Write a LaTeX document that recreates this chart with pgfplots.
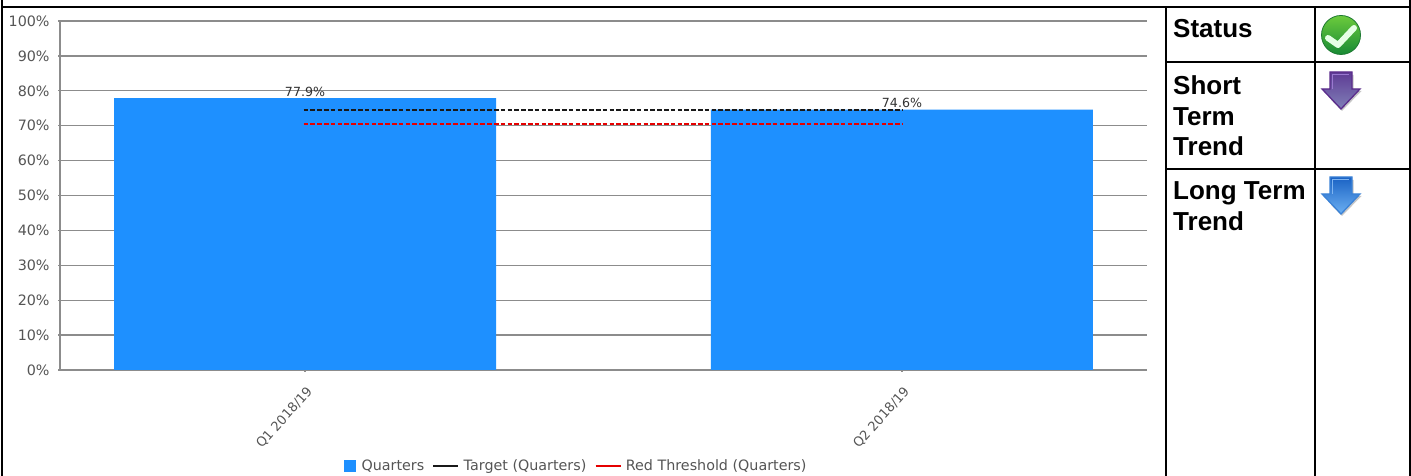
\documentclass[border=0pt]{standalone}
\usepackage{pgfplots}
\pgfplotsset{compat=1.18}
\usepackage{fontspec}
\setmainfont{DejaVu Sans}
\newfontfamily\tablefont{Liberation Sans}
\usetikzlibrary{calc}
\definecolor{barblue}{HTML}{1E90FF}
\definecolor{gridgrey}{HTML}{8C8C8C}
\definecolor{ticktext}{HTML}{555555}
\definecolor{purpletop}{HTML}{5E3B94}
\definecolor{purplebot}{HTML}{8080B8}
\definecolor{purpleline}{HTML}{5B2C8C}
\definecolor{purplehi}{HTML}{9A78D0}
\definecolor{bluetop}{HTML}{1A62C4}
\definecolor{bluebot}{HTML}{6CB0F2}
\definecolor{blueline}{HTML}{3B82D6}
\definecolor{bluehi}{HTML}{7FB4F0}
\definecolor{badgetop}{HTML}{6CCB3C}
\definecolor{badgebot}{HTML}{178A35}
\definecolor{badgeline}{HTML}{1E7A32}

% Trend arrow pointing down: top centre (#1,#2) in page units,
% colours: gradient top, gradient bottom, outline, highlight
\newcommand{\trendarrow}[6]{%
  \fill[black!22] (#1-9,#2-3) -- (#1+12.5,#2-3) -- (#1+12.5,#2-19) -- (#1+20.5,#2-19)
    -- (#1+1,#2-39) -- (#1-10,#2-28) -- cycle;
  \path[top color=#3, bottom color=#4, draw=#5, line width=1.3pt, line join=miter]
    (#1-11,#2) -- (#1+11,#2) -- (#1+11,#2-17) -- (#1+19,#2-17)
    -- (#1,#2-37) -- (#1-19,#2-17) -- (#1-11,#2-17) -- cycle;
  \draw[#6, line width=1.3pt] (#1-8.5,#2-17) -- (#1-8.5,#2-2.5) -- (#1+8,#2-2.5);
}
\begin{document}
\begin{tikzpicture}[x=1pt,y=1pt]
\useasboundingbox (0,0) rectangle (1411,476);
\fill[white] (0,0) rectangle (1411,476);

\begin{axis}[
  at={(60pt,106pt)}, anchor=south west,
  scale only axis, width=1087pt, height=349pt,
  xmin=-0.4104, xmax=1.4104, ymin=0, ymax=100,
  axis lines=left, axis line style={gridgrey, line width=1.3pt, -},
  ytick={0,10,...,100},
  yticklabel={\pgfmathprintnumber{\tick}\%},
  /pgf/number format/assume math mode=true,
  xtick={0,1}, xticklabels={Q1 2018/19,Q2 2018/19},
  ymajorgrids, grid style={gridgrey, line width=1.3pt},
  tick style={gridgrey, line width=1.3pt},
  major tick length=3.5pt,
  yticklabel style={font=\fontsize{14.3}{16}\selectfont, text=ticktext, inner sep=0pt, xshift=-8.5pt},
  xticklabel style={font=\fontsize{13}{15}\selectfont, text=ticktext, rotate=48, anchor=north east, inner sep=0pt, xshift=-9.5pt, yshift=-9.7pt},
  clip=false,
  legend style={at={(516pt,-96pt)}, anchor=center, draw=none, fill=none, legend columns=-1,
    font=\fontsize{14.3}{16}\selectfont, text=ticktext, inner sep=0pt,
    /tikz/every even column/.append style={column sep=8pt},
    /tikz/every odd column/.append style={column sep=4pt}},
  legend image code/.code={\draw[#1, line width=1.5pt, solid] (0pt,0pt) -- (22pt,0pt);},
]
\addplot[ybar, bar width=382pt, fill=barblue, draw=none, bar shift=0pt,
  nodes near coords={\pgfmathprintnumber[fixed,precision=1,fixed zerofill]{\pgfplotspointmeta}\%},
  nodes near coords style={font=\fontsize{12.6}{14}\selectfont, text=black!80, inner sep=1.5pt, anchor=south},
  legend image code/.code={\fill[barblue] (0pt,-6pt) rectangle (12pt,6pt);}]
  coordinates {(0,77.9) (1,74.6)};
\addlegendentry{Quarters}
\addplot[black!90, line width=2pt, dash pattern=on 4.6pt off 2.2pt, shorten >=-1.5pt, shorten <=-1.5pt] coordinates {(0,74.4) (1,74.4)};
\addlegendentry{Target (Quarters)}
\addplot[red!90!black, line width=2pt, dash pattern=on 4.6pt off 2.2pt, shorten >=-1.5pt, shorten <=-1.5pt] coordinates {(0,70.4) (1,70.4)};
\addlegendentry{Red Threshold (Quarters)}
\end{axis}

% Frame and side table
\draw[black, line width=2.8pt] (2,476) -- (2,0);
\draw[black, line width=2.8pt] (2,469) -- (1410,469);
\draw[black, line width=2.8pt] (1410,476) -- (1410,0);
\draw[black, line width=2.8pt] (1166,469) -- (1166,0);
\draw[black, line width=2.8pt] (1315,469) -- (1315,0);
\draw[black, line width=2.8pt] (1166,414) -- (1410,414);
\draw[black, line width=2.8pt] (1166,307) -- (1410,307);

\begin{scope}[every node/.style={anchor=base west, inner sep=0pt,
    font=\tablefont\bfseries\fontsize{26}{31}\selectfont}]
  \node at (1173,438) {Status};
  \node at (1173,381) {Short};
  \node at (1173,350) {Term};
  \node at (1173,320) {Trend};
  \node at (1173,276) {Long Term};
  \node at (1173,245) {Trend};
\end{scope}

% Status badge
\shade[top color=badgetop, bottom color=badgebot, draw=badgeline, line width=0.8pt] (1341,441) circle (19.5);
\draw[white!90!green, line width=6pt, line cap=round, line join=round]
  (1328,438) -- (1338,431) -- (1354,448);

\trendarrow{1341}{404}{purpletop}{purplebot}{purpleline}{purplehi}
\trendarrow{1341}{299}{bluetop}{bluebot}{blueline}{bluehi}
\end{tikzpicture}
\end{document}
